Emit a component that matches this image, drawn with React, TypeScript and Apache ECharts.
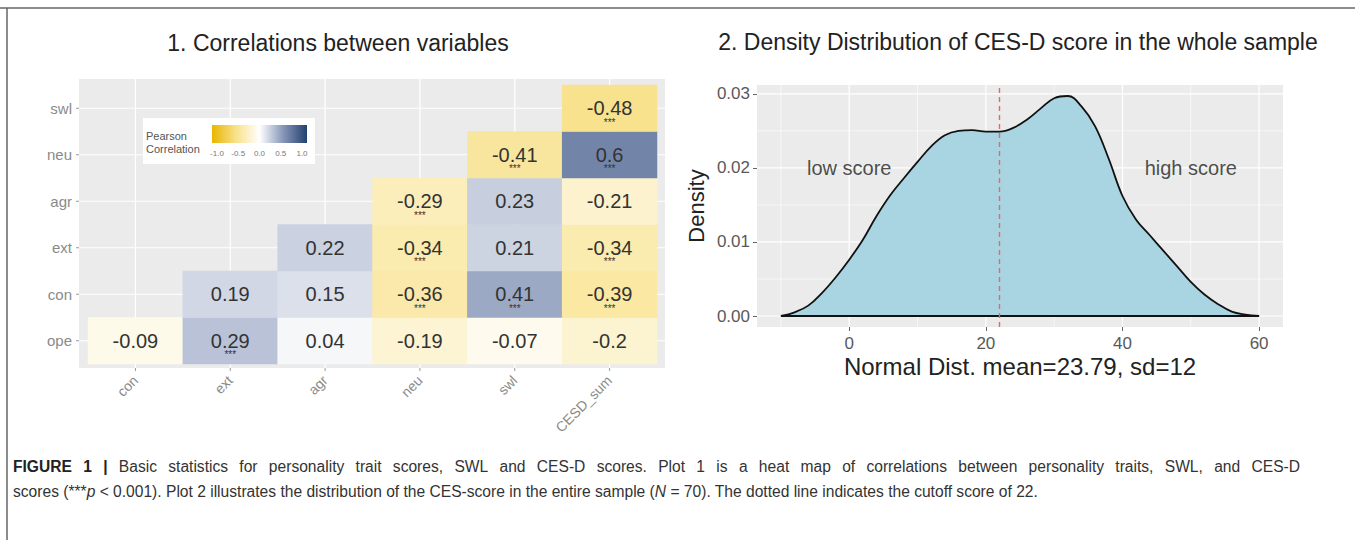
import React, { useEffect, useRef } from "react";
import * as echarts from "echarts";

// ---------- Plot 1: correlation heat map ----------
const xCats = ["con", "ext", "agr", "neu", "swl", "CESD_sum"];
const yCats = ["ope", "con", "ext", "agr", "neu", "swl"];

const rowOpe = [-0.09, 0.29, 0.04, -0.19, -0.07, -0.2];
const rowCon = [null, 0.19, 0.15, -0.36, 0.41, -0.39];
const rowExt = [null, null, 0.22, -0.34, 0.21, -0.34];
const rowAgr = [null, null, null, -0.29, 0.23, -0.21];
const rowNeu = [null, null, null, null, -0.41, 0.6];
const rowSwl = [null, null, null, null, null, -0.48];

const sigOpe = [0, 1, 0, 0, 0, 0];
const sigCon = [0, 0, 0, 1, 1, 1];
const sigExt = [0, 0, 0, 1, 0, 1];
const sigAgr = [0, 0, 0, 1, 0, 0];
const sigNeu = [0, 0, 0, 0, 1, 1];
const sigSwl = [0, 0, 0, 0, 0, 1];

const legendTicks = [-1, -0.5, 0, 0.5, 1];
const corrColors = ["#E8B600", "#F8E189", "#FFFFFF", "#8696B8", "#23406F"];

// ---------- Plot 2: density of CES-D ----------
const densX = [-10, -8, -6, -4, -2, 0, 2, 4, 6, 8, 10, 12, 14, 16, 18, 20, 22, 24, 26, 28, 30, 32, 34, 36, 38, 40, 42, 44, 46, 48, 50, 52, 54, 56, 58, 60];
const densY = [0.0, 0.0005, 0.0014, 0.0031, 0.0052, 0.0076, 0.0103, 0.0135, 0.0163, 0.0186, 0.0208, 0.0229, 0.0244, 0.025, 0.0251, 0.0249, 0.0249, 0.0254, 0.0265, 0.028, 0.0294, 0.0297, 0.0283, 0.0256, 0.0212, 0.0162, 0.013, 0.0109, 0.0088, 0.0067, 0.0046, 0.0029, 0.0016, 0.0006, 0.0002, 0.0];
const cutoff = 22;
const xTicks = [0, 20, 40, 60];
const xMinor = [-10, 10, 30, 50];
const yTicks = [0, 0.01, 0.02, 0.03];
const yMinor = [0.005, 0.015, 0.025];
const annX = [0, 50];
const annY = [0.02, 0.02];
const annText = ["low score", "high score"];

// ---------- caption ----------
const captionLine1 = "FIGURE 1 | Basic statistics for personality trait scores, SWL and CES-D scores. Plot 1 is a heat map of correlations between personality traits, SWL, and CES-D";
const captionBoldWords = 3;
const captionLine2 = "scores (***{i|p} < 0.001). Plot 2 illustrates the distribution of the CES-score in the entire sample ({i|N} = 70). The dotted line indicates the cutoff score of 22.";

const FONT = "'Liberation Sans', Arial, Helvetica, sans-serif";
const CAP_SIZE = 15.6;

export default function App() {
  const ref = useRef<HTMLDivElement>(null);

  useEffect(() => {
    if (!ref.current) return;
    const chart = echarts.init(ref.current, undefined, { renderer: "svg" });

    const rows = [rowOpe, rowCon, rowExt, rowAgr, rowNeu, rowSwl];
    const sigs = [sigOpe, sigCon, sigExt, sigAgr, sigNeu, sigSwl];
    const heatData: any[] = [];
    rows.forEach((row, yi) =>
      row.forEach((v, xi) => {
        if (v !== null) heatData.push([xi, yi, v, sigs[yi][xi]]);
      })
    );

    const xr = densX[densX.length - 1] - densX[0];
    const xMin = densX[0] - 0.05 * xr;
    const xMax = densX[densX.length - 1] + 0.05 * xr;
    const yTop = Math.max(...densY);
    const yMin = -0.05 * yTop;
    const yMax = yTop * 1.05;

    const gridLineData: any[] = [];
    xTicks.forEach((v) => gridLineData.push([0, v, 1]));
    xMinor.forEach((v) => gridLineData.push([0, v, 0]));
    yTicks.forEach((v) => gridLineData.push([1, v, 1]));
    yMinor.forEach((v) => gridLineData.push([1, v, 0]));

    // legend geometry (decoration)
    const lgX = 212, lgY = 125, lgW = 95, lgH = 18;
    const legendGraphics: any[] = [
      { type: "rect", shape: { x: 143, y: 118, width: 172, height: 46 }, style: { fill: "#ffffff" }, z: 10 },
      {
        type: "text", x: 146, y: 142, z: 11,
        style: { text: "Pearson\nCorrelation", fontSize: 11, lineHeight: 13, fontFamily: FONT, fill: "#555", verticalAlign: "middle" },
      },
      {
        type: "rect", z: 11,
        shape: { x: lgX, y: lgY, width: lgW, height: lgH },
        style: {
          fill: new echarts.graphic.LinearGradient(0, 0, 1, 0, corrColors.map((c, i) => ({ offset: i / (corrColors.length - 1), color: c }))),
        },
      },
      ...legendTicks.map((t) => ({
        type: "text", z: 11,
        x: lgX + 5 + ((t + 1) / 2) * (lgW - 10),
        y: lgY + lgH + 10,
        style: { text: t.toFixed(1), fontSize: 8, fontFamily: FONT, fill: "#777", align: "center", verticalAlign: "middle" },
      })),
    ];

    // justified first caption line
    const capLeft = 13, capRight = 1300;
    const ctx = document.createElement("canvas").getContext("2d");
    const words = captionLine1.split(" ");
    const widths = words.map((w, i) => {
      if (!ctx) return w.length * CAP_SIZE * 0.5;
      ctx.font = `${i < captionBoldWords ? "bold " : ""}${CAP_SIZE}px ${FONT}`;
      return ctx.measureText(w).width;
    });
    const totalW = widths.reduce((a, b) => a + b, 0);
    const gap = (capRight - capLeft - totalW) / (words.length - 1);
    const captionGraphics: any[] = [];
    let cx = capLeft;
    words.forEach((w, i) => {
      captionGraphics.push({
        type: "text", x: cx, y: 466,
        style: {
          text: w, fontSize: CAP_SIZE, fontFamily: FONT,
          fontWeight: i < captionBoldWords ? "bold" : "normal",
          fill: i < captionBoldWords ? "#222" : "#333", verticalAlign: "middle",
        },
      });
      cx += widths[i] + gap;
    });
    captionGraphics.push({
      type: "text", x: capLeft, y: 491,
      style: {
        text: captionLine2, fontSize: CAP_SIZE, fontFamily: FONT, fill: "#333", verticalAlign: "middle",
        rich: { i: { fontStyle: "italic", fontSize: CAP_SIZE, fontFamily: FONT, fill: "#333" } },
      },
    });

    const option: any = {
      animation: false,
      backgroundColor: "#ffffff",
      textStyle: { fontFamily: FONT },
      grid: [
        { left: 88, top: 85, width: 569, height: 279 },
        { left: 757, top: 85, width: 526, height: 242, show: true, backgroundColor: "#ebebeb", borderWidth: 0 },
      ],
      xAxis: [
        {
          type: "category", gridIndex: 0, data: xCats,
          axisLine: { show: false }, axisTick: { show: false }, splitLine: { show: false },
          axisLabel: { rotate: 45, margin: 14, fontSize: 14, color: "#8a8a8a", fontFamily: FONT },
        },
        {
          type: "value", gridIndex: 1, min: xMin, max: xMax,
          axisLine: { show: false, onZero: false },
          axisTick: { show: true, length: 4, lineStyle: { color: "#666" }, customValues: xTicks },
          axisLabel: { customValues: xTicks, fontSize: 17, color: "#595959", margin: 8, fontFamily: FONT },
          splitLine: { show: false },
          name: "Normal Dist. mean=23.79, sd=12", nameLocation: "middle", nameGap: 27,
          nameTextStyle: { fontSize: 24, color: "#222", fontFamily: FONT },
        },
      ],
      yAxis: [
        {
          type: "category", gridIndex: 0, data: yCats,
          axisLine: { show: false }, axisTick: { show: false }, splitLine: { show: false },
          axisLabel: { margin: 16, fontSize: 15, color: "#8a8a8a", fontFamily: FONT },
        },
        {
          type: "value", gridIndex: 1, min: yMin, max: yMax,
          axisLine: { show: false, onZero: false },
          axisTick: { show: true, length: 4, lineStyle: { color: "#666" }, customValues: yTicks },
          axisLabel: { customValues: yTicks, fontSize: 17, color: "#595959", margin: 7, fontFamily: FONT, formatter: (v: number) => v.toFixed(2) },
          splitLine: { show: false },
          name: "Density", nameLocation: "middle", nameGap: 50,
          nameTextStyle: { fontSize: 22, color: "#222", fontFamily: FONT },
        },
      ],
      visualMap: {
        show: false, type: "continuous", min: -1, max: 1, dimension: 2, seriesIndex: 1,
        inRange: { color: corrColors },
      },
      series: [
        {
          type: "custom", xAxisIndex: 0, yAxisIndex: 0, z: 1, silent: true,
          data: [[0, 0]],
          renderItem: (params: any, api: any) => {
            const cs = params.coordSys;
            const L = cs.x - 9, R = cs.x + cs.width + 8, T = cs.y - 6, B = cs.y + cs.height + 4;
            const children: any[] = [
              { type: "rect", shape: { x: L, y: T, width: R - L, height: B - T }, style: { fill: "#ebebeb" } },
            ];
            xCats.forEach((_, i) => {
              const px = api.coord([i, 0])[0];
              children.push({ type: "line", shape: { x1: px, y1: T, x2: px, y2: B }, style: { stroke: "#ffffff", lineWidth: 1.2 } });
              children.push({ type: "line", shape: { x1: px, y1: B, x2: px, y2: B + 3 }, style: { stroke: "#999", lineWidth: 1 } });
            });
            yCats.forEach((_, j) => {
              const py = api.coord([0, j])[1];
              children.push({ type: "line", shape: { x1: L, y1: py, x2: R, y2: py }, style: { stroke: "#ffffff", lineWidth: 1.2 } });
              children.push({ type: "line", shape: { x1: L - 3, y1: py, x2: L, y2: py }, style: { stroke: "#999", lineWidth: 1 } });
            });
            return { type: "group", children };
          },
        },
        {
          type: "heatmap", xAxisIndex: 0, yAxisIndex: 0, z: 2,
          data: heatData,
          label: {
            show: true, offset: [0, 4],
            formatter: (p: any) => `{v|${p.value[2]}}\n{s|${p.value[3] ? "***" : " "}}`,
            rich: {
              v: { fontSize: 20, lineHeight: 20, color: "#333", fontFamily: FONT },
              s: { fontSize: 10, lineHeight: 8, color: "#333", fontFamily: FONT },
            },
          },
          itemStyle: { borderWidth: 0 },
          emphasis: { disabled: true },
        },
        {
          type: "custom", xAxisIndex: 1, yAxisIndex: 1, z: 1, silent: true,
          data: gridLineData,
          encode: { x: 1, y: 1 },
          renderItem: (params: any, api: any) => {
            const cs = params.coordSys;
            const dir = api.value(0), v = api.value(1), major = api.value(2);
            const lw = major ? 1.2 : 0.6;
            if (dir === 0) {
              const px = api.coord([v, 0])[0];
              return { type: "line", shape: { x1: px, y1: cs.y, x2: px, y2: cs.y + cs.height }, style: { stroke: "#ffffff", lineWidth: lw } };
            }
            const py = api.coord([0, v])[1];
            return { type: "line", shape: { x1: cs.x, y1: py, x2: cs.x + cs.width, y2: py }, style: { stroke: "#ffffff", lineWidth: lw } };
          },
        },
        {
          type: "line", xAxisIndex: 1, yAxisIndex: 1, z: 2,
          data: densX.map((x, i) => [x, densY[i]]),
          smooth: 0.4, symbol: "none",
          lineStyle: { color: "#111", width: 1.8 },
          areaStyle: { color: "#a9d5e3", opacity: 1 },
          markLine: {
            silent: true, symbol: "none", label: { show: false },
            lineStyle: { color: "#e5686a", type: [5, 4], width: 1.4 },
            data: [{ xAxis: cutoff }],
          },
        },
        {
          type: "line", xAxisIndex: 1, yAxisIndex: 1, z: 3, symbol: "none",
          data: [[densX[0], 0], [densX[densX.length - 1], 0]],
          lineStyle: { color: "#111", width: 1.8 },
        },
        {
          type: "scatter", xAxisIndex: 1, yAxisIndex: 1, z: 4, symbolSize: 0, silent: true,
          data: annX.map((x, i) => ({ value: [x, annY[i]], name: annText[i] })),
          label: { show: true, position: "inside", formatter: (p: any) => p.name, fontSize: 20, color: "#222", fontFamily: FONT },
        },
      ],
      graphic: [
        { type: "line", shape: { x1: 0, y1: 8, x2: 1355, y2: 8 }, style: { stroke: "#666", lineWidth: 1.5 } },
        { type: "line", shape: { x1: 7, y1: 8, x2: 7, y2: 540 }, style: { stroke: "#666", lineWidth: 1.5 } },
        {
          type: "text", x: 338, y: 43,
          style: { text: "1. Correlations between variables", fontSize: 23, fontFamily: FONT, fill: "#222", align: "center", verticalAlign: "middle" },
        },
        {
          type: "text", x: 1018, y: 42,
          style: { text: "2. Density Distribution of CES-D score in the whole sample", fontSize: 23, fontFamily: FONT, fill: "#222", align: "center", verticalAlign: "middle" },
        },
        ...legendGraphics,
        ...captionGraphics,
      ],
    };

    chart.setOption(option);
    return () => chart.dispose();
  }, []);

  return (
    <div
      ref={ref}
      style={{ position: "absolute", left: 0, top: 0, width: 1355, height: 540, background: "#fff" }}
    />
  );
}
